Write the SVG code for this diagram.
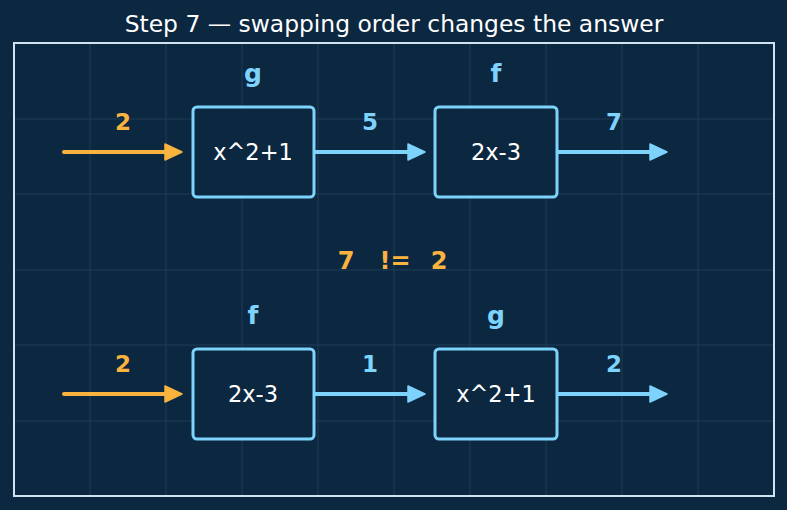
<svg xmlns="http://www.w3.org/2000/svg" width="787" height="510" viewBox="0 0 787 510">
<style>
.grid{stroke:#1e3d57;stroke-width:1}
.box rect{fill:#0c2740;stroke:#7dd3fc;stroke-width:3}
.box text.ex{font-family:"DejaVu Sans",sans-serif;font-size:22.5px;fill:#ffffff;text-anchor:middle}
.box text.fn{font-family:"DejaVu Sans",sans-serif;font-size:25px;font-weight:bold;fill:#7dd3fc;text-anchor:middle}
.val{font-family:"DejaVu Sans",sans-serif;font-size:23px;font-weight:bold;text-anchor:middle}
.o{fill:#fbb340}
.b{fill:#7dd3fc}
.ao{stroke:#fbb340;stroke-width:4;fill:none;stroke-linecap:round}
.ab{stroke:#7dd3fc;stroke-width:4;fill:none;stroke-linecap:round}
</style>
<defs>
<marker id="mo" markerWidth="19" markerHeight="18" refX="11" refY="9" orient="auto" markerUnits="userSpaceOnUse" viewBox="0 0 19 18"><path d="M1,1 L18,9 L1,17 z" fill="#fbb340" stroke="#fbb340" stroke-width="1.5" stroke-linejoin="round"/></marker>
<marker id="mb" markerWidth="19" markerHeight="18" refX="11" refY="9" orient="auto" markerUnits="userSpaceOnUse" viewBox="0 0 19 18"><path d="M1,1 L18,9 L1,17 z" fill="#7dd3fc" stroke="#7dd3fc" stroke-width="1.5" stroke-linejoin="round"/></marker>
</defs>
<rect width="787" height="510" fill="#0c2740"/>
<g id="grid">
<path class="grid" d="M90,44V495M166,44V495M242,44V495M318,44V495M394,44V495M470,44V495M546,44V495M622,44V495M698,44V495M15,119H773M15,194H773M15,270H773M15,345H773M15,421H773"/>
</g>
<rect x="14" y="43" width="760" height="453" fill="none" stroke="#cfe3f2" stroke-width="2"/>
<text x="394" y="32" font-family="DejaVu Sans,sans-serif" font-size="23.4" fill="#ffffff" text-anchor="middle">Step 7 — swapping order changes the answer</text>
<g id="connectors">
<line class="ao" x1="64" y1="152" x2="175" y2="152" marker-end="url(#mo)"/>
<line class="ab" x1="315" y1="152" x2="418" y2="152" marker-end="url(#mb)"/>
<line class="ab" x1="558" y1="152" x2="660" y2="152" marker-end="url(#mb)"/>
<line class="ao" x1="64" y1="394" x2="175" y2="394" marker-end="url(#mo)"/>
<line class="ab" x1="315" y1="394" x2="418" y2="394" marker-end="url(#mb)"/>
<line class="ab" x1="558" y1="394" x2="660" y2="394" marker-end="url(#mb)"/>
<text class="val o" x="123" y="130">2</text>
<text class="val b" x="370" y="130">5</text>
<text class="val b" x="614" y="130">7</text>
<text class="val o" x="123" y="372">2</text>
<text class="val b" x="370" y="372">1</text>
<text class="val b" x="614" y="372">2</text>
</g>
<g id="node-g1" class="box"><rect x="193" y="107" width="121" height="90" rx="4"/><text class="ex" x="253" y="160">x^2+1</text><text class="fn" x="253" y="82">g</text></g>
<g id="node-f1" class="box"><rect x="435" y="107" width="122" height="90" rx="4"/><text class="ex" x="496" y="160">2x-3</text><text class="fn" x="496" y="82">f</text></g>
<g id="node-f2" class="box"><rect x="193" y="349" width="121" height="90" rx="4"/><text class="ex" x="253" y="402">2x-3</text><text class="fn" x="253" y="324">f</text></g>
<g id="node-g2" class="box"><rect x="435" y="349" width="122" height="90" rx="4"/><text class="ex" x="496" y="402">x^2+1</text><text class="fn" x="496" y="324">g</text></g>
<text font-family="DejaVu Sans,sans-serif" font-size="24" font-weight="bold" fill="#fbb340" text-anchor="middle" y="269"><tspan x="346">7</tspan><tspan x="395">!=</tspan><tspan x="439">2</tspan></text>
</svg>
